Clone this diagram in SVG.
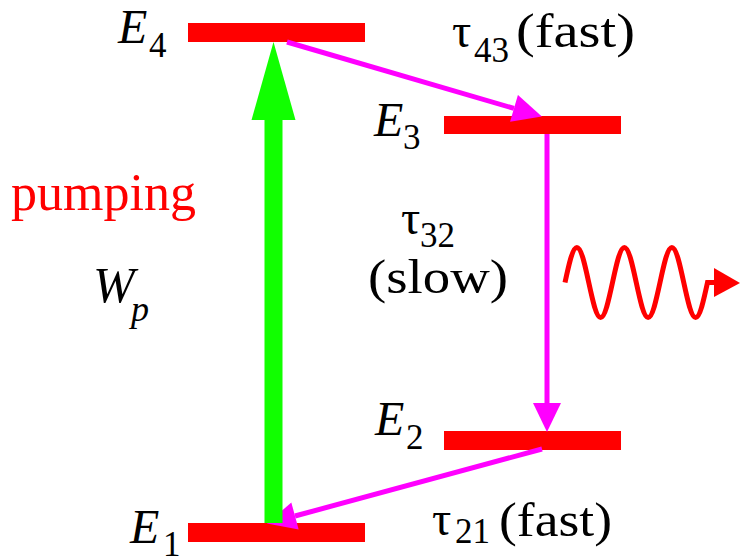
<svg xmlns="http://www.w3.org/2000/svg" width="740" height="556" viewBox="0 0 740 556">
<style>
text{font-family:'Liberation Serif','Times New Roman','DejaVu Serif',serif;fill:#000}
.e{font-size:48px;font-style:italic}
.s{font-size:35px}
.m{font-size:48px}
.bar{fill:#ff0000}
.mg{stroke:#ff00ff;stroke-width:5;fill:none}
</style>
<defs>
<marker id="mh" markerUnits="userSpaceOnUse" markerWidth="30" markerHeight="28" refX="0" refY="13.5" orient="auto" viewBox="0 0 28 27">
<path d="M0,0 L28,13.5 L0,27 z" fill="#ff00ff"/>
</marker>
</defs>
<g id="level-E4">
<rect class="bar" x="188" y="23" width="177" height="19"/>
<text class="e" x="118" y="43">E</text><text class="s" x="149" y="57">4</text>
</g>
<g id="level-E3">
<rect class="bar" x="444" y="116" width="177" height="18"/>
<text class="e" x="374" y="136">E</text><text class="s" x="403" y="149">3</text>
</g>
<g id="level-E2">
<rect class="bar" x="444" y="431" width="177" height="19"/>
<text class="e" x="375" y="435">E</text><text class="s" x="406" y="449">2</text>
</g>
<g id="level-E1">
<rect class="bar" x="188" y="523" width="177" height="19"/>
<text class="e" x="130" y="543">E</text><text class="s" x="163" y="556">1</text>
</g>
<g id="connectors">
<line class="mg" x1="287" y1="42" x2="514" y2="108.4" marker-end="url(#mh)"/>
<line class="mg" x1="547" y1="134" x2="547" y2="403" marker-end="url(#mh)"/>
<line class="mg" x1="542" y1="449" x2="295" y2="516" marker-end="url(#mh)"/>
<g id="pump-arrow" fill="#11ff00">
<rect x="264.5" y="118" width="18" height="405"/>
<polygon points="251.5,120 295.5,120 273.5,42"/>
</g>
</g>
<g id="photon">
<path d="M565,282.5 c3.873,-17.93 7.577,-35 11.875,-35 c4.298,0 8.002,17.07 11.875,35 c3.873,17.93 7.577,35 11.875,35 c4.298,0 8.002,-17.07 11.875,-35 c3.873,-17.93 7.577,-35 11.875,-35 c4.298,0 8.002,17.07 11.875,35 c3.873,17.93 7.577,35 11.875,35 c4.298,0 8.002,-17.07 11.875,-35 c3.873,-17.930 7.577,-35 11.875,-35 c4.298,0 8.002,17.07 11.875,35 c3.873,17.93 7.577,35 11.875,35 c4.298,0 8.002,-17.07 11.875,-35 L716,282.5" fill="none" stroke="#ff0000" stroke-width="5"/>
<polygon points="714,268 714,297 740,283" fill="#ff0000"/>
</g>
<g id="label-tau43">
<text class="m" x="452" y="46.5">τ</text><text class="s" x="474" y="61.5">43</text>
<text class="m" x="516" y="46.5" textLength="119" lengthAdjust="spacingAndGlyphs">(fast)</text>
</g>
<g id="label-tau32">
<text class="m" x="401" y="234">τ</text><text class="s" x="420" y="247">32</text>
<text class="m" x="368" y="293" textLength="140" lengthAdjust="spacingAndGlyphs">(slow)</text>
</g>
<g id="label-tau21">
<text class="m" x="432" y="535">τ</text><text class="s" x="455" y="543">21</text>
<text class="m" x="499" y="536" textLength="113" lengthAdjust="spacingAndGlyphs">(fast)</text>
</g>
<g id="label-pumping">
<text x="11" y="210" style="font-size:52px;fill:#ff0000">pumping</text>
</g>
<g id="label-Wp">
<text x="93" y="302" style="font-size:50px;font-style:italic">W</text>
<text x="131" y="321" style="font-size:36px;font-style:italic">p</text>
</g>
</svg>
